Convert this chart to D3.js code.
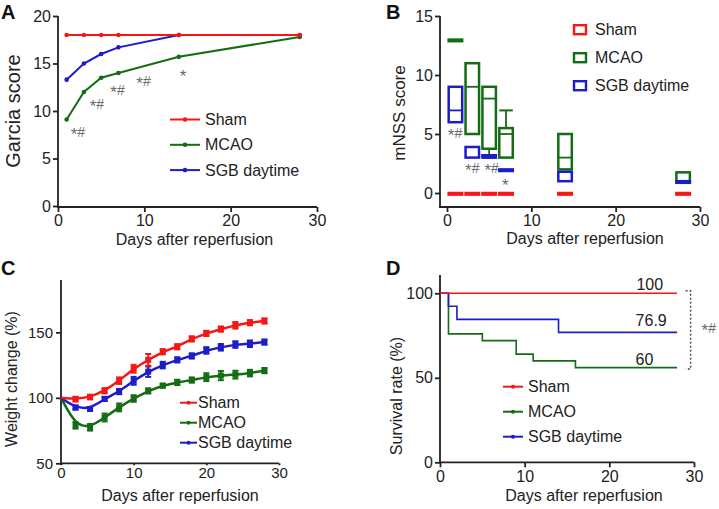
<!DOCTYPE html>
<html><head><meta charset="utf-8">
<script src="https://cdn.jsdelivr.net/npm/d3@7"></script>
<style>
body{margin:0;background:#fff;}
svg{display:block;font-family:"Liberation Sans",Arial,sans-serif;}
</style></head><body>
<svg id="c" width="719" height="509"></svg>
<script>
const RED="#f51616", GREEN="#146c14", BLUE="#1c1cc8", GREY="#6a6a6a", INK="#222";
const FONT='"Liberation Sans",Arial,sans-serif';

// ---------- Panel A data ----------
const aDays=[1,3,5,7,14,28];
const aSham=[18,18,18,18,18,18];
const aMCAO=[9.1,12,13.5,14,15.7,17.8];
const aSGB=[13.3,15,16,16.7,18,18];
const aXTicks=[0,10,20,30];
const aYTicks=[0,5,10,15,20];
const aNotes=[{t:"*#",d:2.3,v:7.3},{t:"*#",d:4.5,v:10.2},{t:"*#",d:6.9,v:11.7},{t:"*#",d:9.9,v:12.6},{t:"*",d:14.5,v:13.4}];

// ---------- Panel B data: [min,q1,median,q3,max] ----------
const bDays=[1,3,5,7,14,28];
const bSham=[[0,0,0,0,0],[0,0,0,0,0],[0,0,0,0,0],[0,0,0,0,0],[0,0,0,0,0],[0,0,0,0,0]];
const bMCAO=[[13,13,13,13,13],[5,5,9,11,11],[3,3.75,8,9,9],[3,3,5,5.5,7],[2,2,3,5,5],[1,1,1,1.75,1.75]];
const bSGB=[[6,6,7,9,9],[3,3,3,3.9,3.9],[3,3,3,3.2,3.2],[2,2,2,2,2],[1,1,1,1.8,1.8],[1,1,1,1,1]];
const bXTicks=[0,10,20,30];
const bYTicks=[0,5,10,15];
const bNotes=[{t:"*#",d:0.95,v:4.7},{t:"*#",d:3.0,v:1.7},{t:"*#",d:5.3,v:1.7},{t:"*",d:6.9,v:0.45}];

// ---------- Panel C data ----------
const cDays=[0,2,4,6,8,10,12,14,16,18,20,22,24,26,28];
const cSham=[100,99,100.6,105.4,113.1,122.2,129,135.2,139,145,149.2,152.5,155.4,157.4,158.7];
const cShamErr=[0,1.8,1.8,2,2.5,3,4.5,2,2,2,2,2,2.5,2,2];
const cSGB=[100,92.6,91.5,99.2,104.8,113,120,125,129,132,136.2,138.6,140.7,141.3,142.6];
const cSGBErr=[0,1.5,1.5,1.5,2,3,4,2.5,2,2,2.5,2.5,2.5,2.5,2];
const cMCAO=[100,79,77.5,85,92.7,99.5,105.3,109.3,111.8,113.6,115.8,117,117.7,118.9,120.8];
const cMCAOErr=[0,2.5,2.5,3,3,2.5,2,1.5,2,2,3,3.5,3,2.5,2];
const cXTicks=[0,10,20,30];
const cYTicks=[50,100,150];

// ---------- Panel D data ----------
const dShamT=[0,28], dShamV=[100,100];
const dSGBT=[0,1,2,14,28], dSGBV=[100,92.3,84.6,76.9,76.9];
const dMCAOT=[0,1,5,9,11,16,28], dMCAOV=[100,76,72,64,60,56,56];
const dXTicks=[0,10,20,30];
const dYTicks=[0,50,100];
const dLabels=[{t:"100",d:23.2,v:102},{t:"76.9",d:23.1,v:80.7},{t:"60",d:23.1,v:57.6}];

const legendNames=["Sham","MCAO","SGB daytime"];
const legendColors=[RED,GREEN,BLUE];

const svg=d3.select("#c");

function axes(x,y,o){
  const gx=svg.append("g").attr("transform",`translate(0,${o.axisY})`)
    .call(d3.axisBottom(x).tickValues(o.xt).tickSize(o.xts).tickPadding(o.xpad).tickSizeOuter(0));
  const gy=svg.append("g").attr("transform",`translate(${o.axisX},0)`)
    .call(d3.axisLeft(y).tickValues(o.yt).tickSize(5).tickPadding(o.ypad).tickSizeOuter(0));
  [gx,gy].forEach(g=>{
    g.attr("font-size",null).attr("font-family",null);
    g.select(".domain").remove();
    g.selectAll("line").attr("stroke",INK).attr("stroke-width",1.8);
    g.selectAll("text").attr("fill",INK).style("font-size",o.fs+"px").style("font-family",FONT);
  });
  svg.append("line").attr("x1",o.axisX).attr("x2",o.axisX).attr("y1",o.yTop).attr("y2",o.axisY+0.9)
    .attr("stroke",INK).attr("stroke-width",1.8);
  svg.append("line").attr("x1",o.axisX-0.9).attr("x2",x.range()[1]).attr("y1",o.axisY).attr("y2",o.axisY)
    .attr("stroke",INK).attr("stroke-width",1.8);
}
function title(txt,x,y,rot,fs){
  svg.append("text").attr("transform",`translate(${x},${y})`+(rot?" rotate(-90)":""))
    .attr("text-anchor","middle").attr("fill",INK).style("font-size",fs+"px").style("font-family",FONT).text(txt);
}
function letter(t,x,y){
  svg.append("text").attr("x",x).attr("y",y).attr("fill","#111").style("font-size","20px")
    .style("font-weight","bold").style("font-family",FONT).text(t);
}
function note(sel){
  // asterisk drawn larger and lowered so it sits centred beside the hash
  sel.each(function(d){
    const t=d3.select(this);
    let shifted=0;
    d.t.split("").forEach(p=>{
      const s=t.append("tspan");
      if(p==="*"){ s.style("font-size","17px").attr("dy",3-shifted); shifted=3; }
      else { s.style("font-size","14px").attr("dy",-shifted); shifted=0; }
      s.text(p);
    });
  });
}

// ================= Panel A =================
{
  const x=d3.scaleLinear([0,30],[58,317]);
  const y=d3.scaleLinear([0,20],[206,16]);
  axes(x,y,{axisX:58,axisY:207,yTop:16,xt:aXTicks,yt:aYTicks,xts:5,xpad:3,ypad:2,fs:16});
  const line=d3.line().x(d=>x(d[0])).y(d=>y(d[1]));
  [[aMCAO,GREEN],[aSGB,BLUE],[aSham,RED]].forEach(([vals,col])=>{
    const pts=aDays.map((d,i)=>[d,vals[i]]);
    svg.append("path").attr("d",line(pts)).attr("fill","none").attr("stroke",col).attr("stroke-width",2);
    svg.selectAll(null).data(pts).join("circle").attr("cx",d=>x(d[0])).attr("cy",d=>y(d[1])).attr("r",2.3).attr("fill",col);
  });
  svg.selectAll(null).data(aNotes).join("text").attr("x",d=>x(d.d)).attr("y",d=>y(d.v))
    .attr("text-anchor","middle").attr("fill",GREY).style("font-family",FONT).call(note);
  legendNames.forEach((n,i)=>{
    const ly=119.5+i*25.3;
    svg.append("line").attr("x1",170).attr("x2",200).attr("y1",ly).attr("y2",ly).attr("stroke",legendColors[i]).attr("stroke-width",2);
    svg.append("circle").attr("cx",185).attr("cy",ly).attr("r",2.3).attr("fill",legendColors[i]);
    svg.append("text").attr("x",205).attr("y",ly+5.6).attr("fill",INK).style("font-size","16px").style("font-family",FONT).text(n);
  });
  title("Days after reperfusion",194.5,245,false,16);
  title("Garcia score",19.5,111,true,20);
  letter("A",1,19);
}

// ================= Panel B =================
{
  const x=d3.scaleLinear([0,30],[447,700]);
  const y=d3.scaleLinear([0,15],[193,16]);
  axes(x,y,{axisX:440,axisY:207,yTop:16,xt:bXTicks,yt:bYTicks,xts:5,xpad:3,ypad:2,fs:16});
  const hw=(x(1.6)-x(0))/2;
  [[bSham,RED],[bMCAO,GREEN],[bSGB,BLUE]].forEach(([data,col])=>{
    data.forEach((b,i)=>{
      const cx=x(bDays[i]);
      const g=svg.append("g").attr("stroke",col).attr("stroke-width",2.5).attr("fill","none");
      if(b[4]>b[3]){
        g.append("line").attr("x1",cx).attr("x2",cx).attr("y1",y(b[3])).attr("y2",y(b[4])).attr("stroke-width",1.8);
        g.append("line").attr("x1",cx-hw).attr("x2",cx+hw).attr("y1",y(b[4])).attr("y2",y(b[4])).attr("stroke-width",2);
      }
      if(b[1]>b[0]){
        g.append("line").attr("x1",cx).attr("x2",cx).attr("y1",y(b[1])).attr("y2",y(b[0])).attr("stroke-width",1.8);
        g.append("line").attr("x1",cx-hw).attr("x2",cx+hw).attr("y1",y(b[0])).attr("y2",y(b[0])).attr("stroke-width",2);
      }
      const top=y(b[3]), bot=y(b[1]);
      g.append("rect").attr("x",cx-hw).attr("width",2*hw).attr("y",top).attr("height",Math.max(bot-top,1.6));
      if(b[2]>b[1]&&b[2]<b[3])
        g.append("line").attr("x1",cx-hw).attr("x2",cx+hw).attr("y1",y(b[2])).attr("y2",y(b[2])).attr("stroke-width",1.8);
    });
  });
  svg.selectAll(null).data(bNotes).join("text").attr("x",d=>x(d.d)).attr("y",d=>y(d.v))
    .attr("text-anchor","middle").attr("fill",GREY).style("font-family",FONT).call(note);
  legendNames.forEach((n,i)=>{
    const ly=29.7+i*28;
    svg.append("rect").attr("x",574).attr("y",ly-4.5).attr("width",12).attr("height",9)
      .attr("fill","none").attr("stroke",legendColors[i]).attr("stroke-width",2.4);
    svg.append("text").attr("x",595).attr("y",ly+5.5).attr("fill",INK).style("font-size","16px").style("font-family",FONT).text(n);
  });
  title("Days after reperfusion",585,244,false,16);
  title("mNSS score",405,113,true,17);
  letter("B",386,19);
}

// ================= Panel C =================
{
  const x=d3.scaleLinear([0,30],[61,279]);
  const y=d3.scaleLinear([50,190],[463.3,280]);
  axes(x,y,{axisX:61,axisY:463.3,yTop:280,xt:cXTicks,yt:cYTicks,xts:2,xpad:2,ypad:3,fs:15});
  const line=d3.line().x(d=>x(d[0])).y(d=>y(d[1])).curve(d3.curveBasis);
  [[cMCAO,cMCAOErr,GREEN],[cSGB,cSGBErr,BLUE],[cSham,cShamErr,RED]].forEach(([vals,errs,col])=>{
    const pts=cDays.map((d,i)=>[d,vals[i],errs[i]]);
    svg.append("path").attr("d",line(pts)).attr("fill","none").attr("stroke",col).attr("stroke-width",2.5);
    const m=pts.filter(p=>p[0]>0);
    const g=svg.append("g").attr("stroke",col).attr("fill",col);
    g.selectAll(null).data(m).join("line").attr("x1",d=>x(d[0])).attr("x2",d=>x(d[0]))
      .attr("y1",d=>y(d[1]+d[2])).attr("y2",d=>y(d[1]-d[2])).attr("stroke-width",2);
    g.selectAll(null).data(m.flatMap(d=>[[d[0],d[1]+d[2]],[d[0],d[1]-d[2]]])).join("line")
      .attr("x1",d=>x(d[0])-3).attr("x2",d=>x(d[0])+3).attr("y1",d=>y(d[1])).attr("y2",d=>y(d[1])).attr("stroke-width",2);
    g.selectAll(null).data(m).join("rect").attr("x",d=>x(d[0])-3).attr("y",d=>y(d[1])-3)
      .attr("width",6).attr("height",6).attr("stroke","none");
  });
  legendNames.forEach((n,i)=>{
    const ly=402.7+i*20;
    svg.append("line").attr("x1",180).attr("x2",197).attr("y1",ly).attr("y2",ly).attr("stroke",legendColors[i]).attr("stroke-width",2);
    svg.append("circle").attr("cx",188.5).attr("cy",ly).attr("r",2).attr("fill",legendColors[i]);
    svg.append("text").attr("x",198).attr("y",ly+5.6).attr("fill",INK).style("font-size","16px").style("font-family",FONT).text(n);
  });
  title("Days after reperfusion",180,501,false,16);
  title("Weight change (%)",17,379,true,16);
  letter("C",1,275);
}

// ================= Panel D =================
{
  const x=d3.scaleLinear([0,30],[440,694]);
  const y=d3.scaleLinear([0,110],[462.3,276.4]);
  axes(x,y,{axisX:440,axisY:462.3,yTop:275,xt:dXTicks,yt:dYTicks,xts:5,xpad:3,ypad:2,fs:16});
  const line=d3.line().x(d=>x(d[0])).y(d=>y(d[1])).curve(d3.curveStepAfter);
  [[dMCAOT,dMCAOV,GREEN],[dSGBT,dSGBV,BLUE],[dShamT,dShamV,RED]].forEach(([ts,vs,col])=>{
    svg.append("path").attr("d",line(ts.map((t,i)=>[t,vs[i]]))).attr("fill","none").attr("stroke",col).attr("stroke-width",1.6);
  });
  svg.selectAll(null).data(dLabels).join("text").attr("x",d=>x(d.d)).attr("y",d=>y(d.v))
    .attr("fill",INK).style("font-size","16px").style("font-family",FONT).text(d=>d.t);
  const bx=x(29.6), b1=y(101.5), b2=y(55.2);
  const br=svg.append("g").attr("stroke","#444").attr("stroke-width",1.4).attr("fill","none");
  br.append("path").attr("d",`M${bx-5},${b1}H${bx}V${b2}H${bx-5}`).attr("stroke-dasharray","2,2");
  svg.selectAll(null).data([{t:"*#",d:30.9,v:76.5}]).join("text").attr("x",d=>x(d.d)).attr("y",d=>y(d.v))
    .attr("fill",GREY).style("font-family",FONT).call(note);
  legendNames.forEach((n,i)=>{
    const ly=386.7+i*25;
    svg.append("line").attr("x1",503).attr("x2",523).attr("y1",ly).attr("y2",ly).attr("stroke",legendColors[i]).attr("stroke-width",2);
    svg.append("circle").attr("cx",513).attr("cy",ly).attr("r",2).attr("fill",legendColors[i]);
    svg.append("text").attr("x",528).attr("y",ly+5.3).attr("fill",INK).style("font-size","16px").style("font-family",FONT).text(n);
  });
  title("Days after reperfusion",584,501,false,16);
  title("Survival rate (%)",401.5,396,true,16);
  letter("D",386,275);
}
</script>
</body></html>
